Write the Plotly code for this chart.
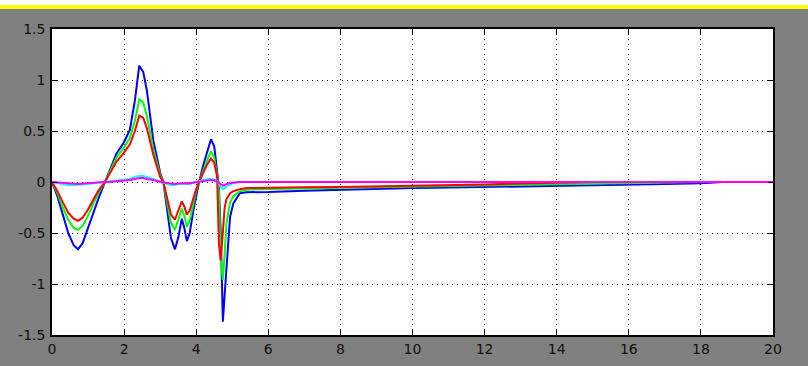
import plotly.graph_objects as go

t = [0, 0.15, 0.3, 0.45, 0.6, 0.72, 0.85, 1.0, 1.15, 1.3,
     1.47, 1.6, 1.79, 1.98, 2.16, 2.3, 2.42, 2.53, 2.63, 2.81,
     3.0, 3.09, 3.2, 3.3, 3.41, 3.5, 3.6, 3.67, 3.74, 3.82,
     3.92, 4.0, 4.08, 4.2, 4.3, 4.41, 4.5, 4.58, 4.63, 4.68,
     4.74, 4.79, 4.84, 4.94, 5.03, 5.21, 5.4, 6, 7, 8,
     9, 10, 11, 12, 13, 14, 15, 16, 17, 18,
     18.6, 20]

blue = [0, -0.14, -0.32, -0.5, -0.62, -0.66, -0.6, -0.46, -0.3, -0.15,
        0.0, 0.12, 0.28, 0.38, 0.51, 0.8, 1.14, 1.08, 0.9, 0.41,
        0.09, 0.0, -0.3, -0.55, -0.66, -0.55, -0.36, -0.45, -0.58, -0.5,
        -0.28, -0.12, 0.0, 0.17, 0.3, 0.42, 0.35, 0.12, -0.05, -0.5,
        -1.37, -1.1, -0.83, -0.34, -0.21, -0.11, -0.1, -0.098, -0.085, -0.075,
        -0.068, -0.06, -0.055, -0.05, -0.042, -0.036, -0.03, -0.025, -0.02, -0.012,
        0, 0]

green = [0, -0.11, -0.25, -0.37, -0.45, -0.47, -0.43, -0.33, -0.21, -0.1,
         0.0, 0.1, 0.24, 0.33, 0.43, 0.6, 0.81, 0.78, 0.65, 0.32,
         0.07, 0.0, -0.22, -0.4, -0.47, -0.38, -0.26, -0.33, -0.44, -0.38,
         -0.22, -0.09, 0.0, 0.12, 0.21, 0.3, 0.24, 0.07, -0.1, -0.75,
         -0.96, -0.7, -0.4, -0.2, -0.14, -0.09, -0.075, -0.068, -0.062, -0.058,
         -0.052, -0.048, -0.044, -0.035, -0.03, -0.022, -0.018, -0.012, -0.007, 0,
         0, 0]

red = [0, -0.09, -0.2, -0.3, -0.36, -0.38, -0.35, -0.27, -0.17, -0.08,
       0.0, 0.08, 0.2, 0.28, 0.37, 0.5, 0.65, 0.63, 0.53, 0.27,
       0.05, 0.0, -0.18, -0.32, -0.37, -0.29, -0.19, -0.24, -0.32, -0.28,
       -0.16, -0.07, 0.0, 0.1, 0.17, 0.23, 0.19, 0.05, -0.6, -0.77,
       -0.45, -0.25, -0.17, -0.11, -0.09, -0.07, -0.06, -0.055, -0.052, -0.048,
       -0.043, -0.038, -0.033, -0.024, -0.015, -0.006, 0, 0, 0, 0,
       0, 0]

cyan = [0, -0.01, -0.02, -0.03, -0.03, -0.03, -0.025, -0.02, -0.01, -0.005,
        0.0, 0.005, 0.01, 0.02, 0.03, 0.05, 0.06, 0.06, 0.05, 0.03,
        0.0, -0.01, -0.02, -0.03, -0.03, -0.02, -0.02, -0.02, -0.025, -0.02,
        -0.01, 0.0, 0.01, 0.02, 0.025, 0.03, 0.025, 0.01, -0.02, -0.05,
        -0.07, -0.06, -0.04, -0.02, -0.01, 0.0, 0, 0, 0, 0,
        0, 0, 0, 0, 0, 0, 0, 0, 0, 0,
        0, 0]

magenta = [0, -0.005, -0.01, -0.015, -0.02, -0.02, -0.015, -0.01, -0.005, 0,
           0, 0, 0.005, 0.01, 0.02, 0.03, 0.04, 0.04, 0.03, 0.02,
           0, -0.005, -0.01, -0.015, -0.02, -0.015, -0.01, -0.01, -0.015, -0.01,
           -0.005, 0, 0.005, 0.01, 0.015, 0.02, 0.015, 0.005, -0.01, -0.025,
           -0.035, -0.03, -0.02, -0.01, -0.005, 0, 0, 0, 0, 0,
           0, 0, 0, 0, 0, 0, 0, 0, 0, 0,
           0, 0]

x_ticks = [0, 2, 4, 6, 8, 10, 12, 14, 16, 18, 20]
y_ticks = [-1.5, -1, -0.5, 0, 0.5, 1, 1.5]
y_tick_text = ["-1.5", "-1", "-0.5", "0", "0.5", "1", "1.5"]

series = [("blue", blue, "#0000ff"), ("green", green, "#00ff00"),
          ("red", red, "#ff0000"), ("cyan", cyan, "#00ffff"),
          ("magenta", magenta, "#ff00ff")]

fig = go.Figure()
for name, vals, col in series:
    fig.add_trace(go.Scatter(x=t, y=vals, mode="lines", name=name,
                             line=dict(color=col, width=2), showlegend=False))

axis_common = dict(showline=True, linecolor="#000000", linewidth=1.5, mirror="ticks",
                   ticks="inside", ticklen=5, tickcolor="#000000", automargin=False,
                   showgrid=True, gridcolor="#000000", gridwidth=1, griddash="1px,4px",
                   zeroline=False, tickfont=dict(family="DejaVu Sans", size=14, color="#111111"))

fig.update_xaxes(range=[0, 20], tickvals=x_ticks, **axis_common)
fig.update_yaxes(range=[-1.5, 1.5], tickvals=y_ticks, ticktext=y_tick_text,
                 ticklabelstandoff=2, **axis_common)

fig.update_layout(
    width=808, height=366,
    margin=dict(l=52, r=35, t=29, b=31, autoexpand=False),
    paper_bgcolor="#808080", plot_bgcolor="#ffffff",
    shapes=[
        dict(type="rect", xref="paper", yref="paper", x0=-0.1, x1=1.1,
             y0=1.0784, y1=1.12, fillcolor="#ffffff", line=dict(width=0), layer="below"),
        dict(type="rect", xref="paper", yref="paper", x0=-0.1, x1=1.1,
             y0=1.065, y1=1.0784, fillcolor="#ffff00", line=dict(width=0), layer="below"),
    ],
)

fig.write_html("out.html", config={"displayModeBar": False},
               post_script="document.body.style.margin='0';")
